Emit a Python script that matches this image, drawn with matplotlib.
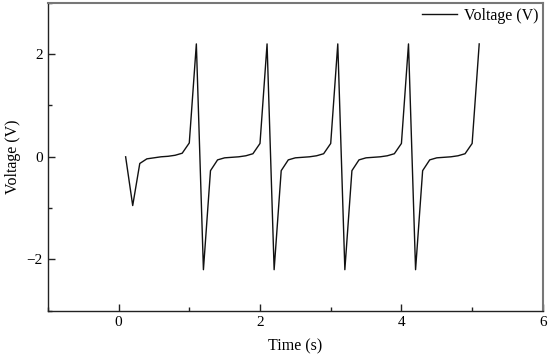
import matplotlib
matplotlib.use("Agg")
import matplotlib.pyplot as plt
from matplotlib.ticker import MultipleLocator

# 採樣時間 (s) 與電壓 (V)
time_s = [0.1, 0.2, 0.3, 0.4, 0.5, 0.6, 0.7, 0.8, 0.9, 1.0,
          1.1, 1.2, 1.3, 1.4, 1.5, 1.6, 1.7, 1.8, 1.9, 2.0,
          2.1, 2.2, 2.3, 2.4, 2.5, 2.6, 2.7, 2.8, 2.9, 3.0,
          3.1, 3.2, 3.3, 3.4, 3.5, 3.6, 3.7, 3.8, 3.9, 4.0,
          4.1, 4.2, 4.3, 4.4, 4.5, 4.6, 4.7, 4.8, 4.9, 5.0,
          5.1]
voltage = [0.0, -0.95, -0.13, -0.04, -0.02, 0.0, 0.01, 0.03, 0.07, 0.27,
           2.2, -2.2, -0.27, -0.06, -0.02, -0.01, 0.0, 0.02, 0.06, 0.26,
           2.2, -2.2, -0.27, -0.06, -0.02, -0.01, 0.0, 0.02, 0.06, 0.26,
           2.2, -2.2, -0.27, -0.06, -0.02, -0.01, 0.0, 0.02, 0.06, 0.26,
           2.2, -2.2, -0.27, -0.06, -0.02, -0.01, 0.0, 0.02, 0.06, 0.26,
           2.2]

plt.rcParams["font.family"] = ["Liberation Serif", "DejaVu Serif"]
plt.rcParams["font.size"] = 11

fig = plt.figure(figsize=(5.5, 3.58), dpi=100)
ax = fig.add_axes([0.087, 0.132, 0.9, 0.86])

ax.plot(time_s, voltage, color="#111111", lw=1.0, label="Voltage (V)")

ax.set_xlim(-1, 6)
ax.set_ylim(-3, 3)
ax.xaxis.set_major_locator(MultipleLocator(2))
ax.xaxis.set_minor_locator(MultipleLocator(1))
ax.yaxis.set_major_locator(MultipleLocator(2))
ax.yaxis.set_minor_locator(MultipleLocator(1))
ax.tick_params(which="both", direction="in", color="#222222", labelsize=11)
ax.tick_params(which="major", length=5, width=1)
ax.tick_params(which="minor", length=3, width=1)

for side in ("left", "bottom"):
    ax.spines[side].set_color("#222222")
    ax.spines[side].set_linewidth(1.0)
for side in ("right", "top"):
    ax.spines[side].set_color("#777777")
    ax.spines[side].set_linewidth(1.5)

ax.set_xlabel("Time (s)", fontsize=11.5, labelpad=7)
ax.set_ylabel("Voltage (V)", fontsize=11.5, labelpad=4)

ax.legend(loc="upper right", frameon=False, fontsize=11.5,
          handlelength=2.2, handletextpad=0.4,
          borderaxespad=0.1, borderpad=0.2)

fig.savefig("out.png", dpi=100)
